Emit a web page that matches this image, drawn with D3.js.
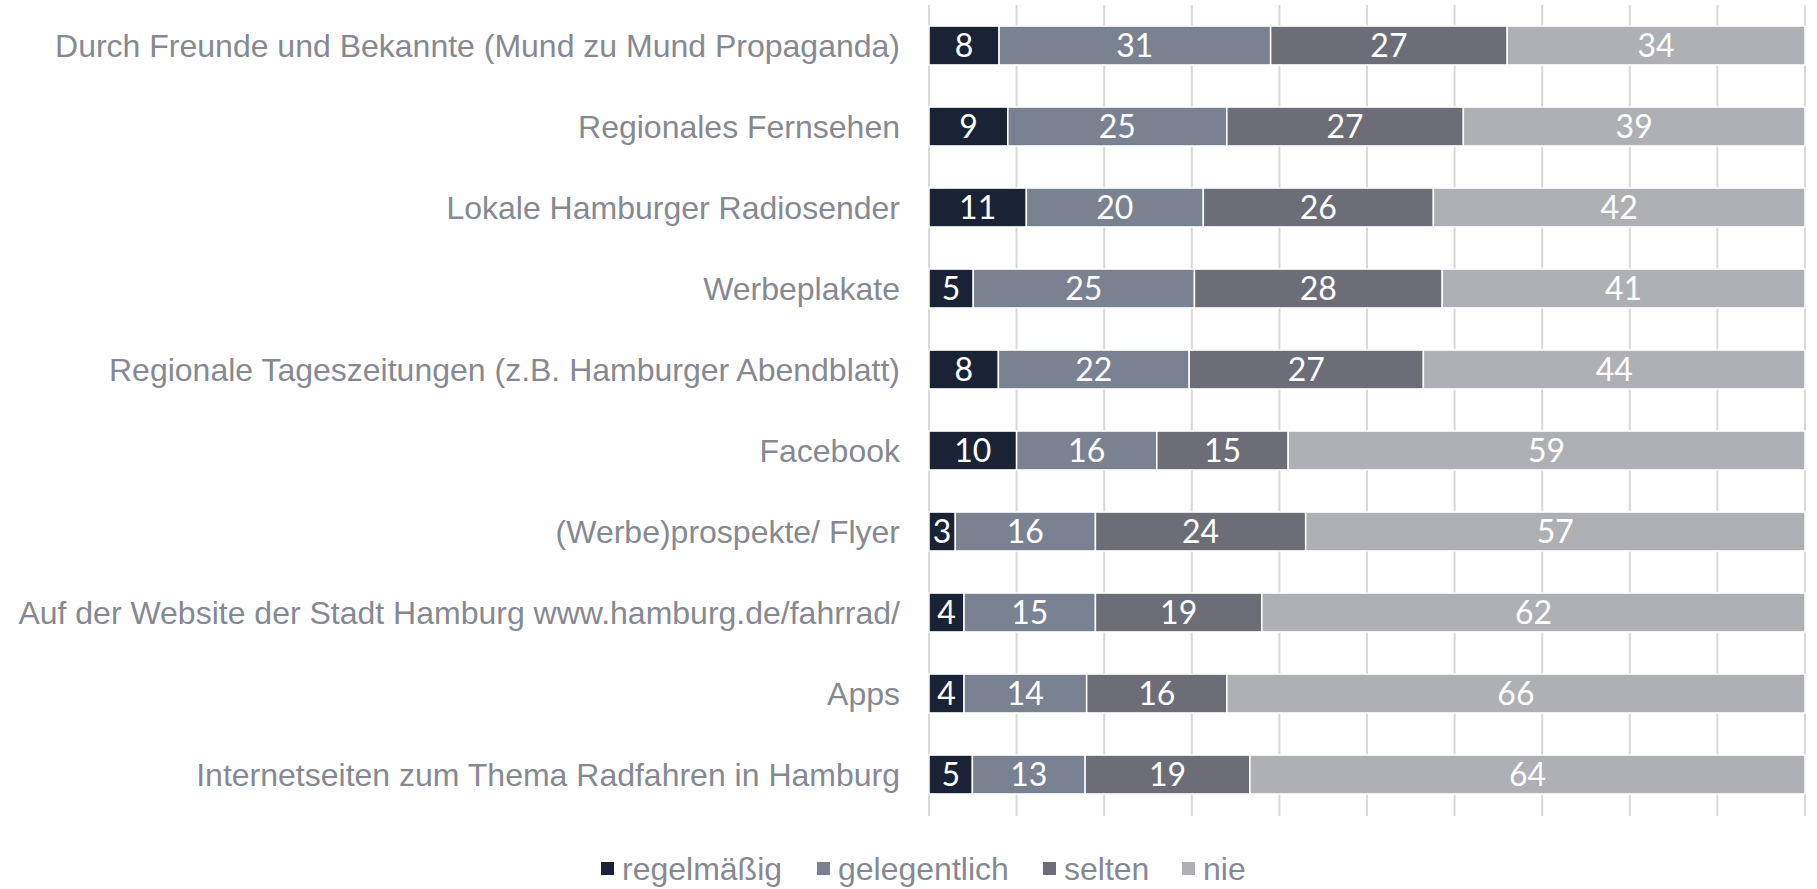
<!DOCTYPE html>
<html>
<head>
<meta charset="utf-8">
<script src="https://cdn.jsdelivr.net/npm/d3@7"></script>
<style>
  body { margin: 0; background: #fff; }
  svg { display: block; }
</style>
</head>
<body>
<div id="chart"></div>
<script>
const width = 1817;
const height = 889;

// data
const categories = [
    "Durch Freunde und Bekannte (Mund zu Mund Propaganda)",
    "Regionales Fernsehen",
    "Lokale Hamburger Radiosender",
    "Werbeplakate",
    "Regionale Tageszeitungen (z.B. Hamburger Abendblatt)",
    "Facebook",
    "(Werbe)prospekte/ Flyer",
    "Auf der Website der Stadt Hamburg www.hamburg.de/fahrrad/",
    "Apps",
    "Internetseiten zum Thema Radfahren in Hamburg"
];
const seriesNames = ["regelmäßig", "gelegentlich", "selten", "nie"];
const regelmaessig = [8, 9, 11, 5, 8, 10, 3, 4, 4, 5];
const gelegentlich = [31, 25, 20, 25, 22, 16, 16, 15, 14, 13];
const selten = [27, 27, 26, 28, 27, 15, 24, 19, 16, 19];
const nie = [34, 39, 42, 41, 44, 59, 57, 62, 66, 64];
const xTicks = [0, 0.1, 0.2, 0.3, 0.4, 0.5, 0.6, 0.7, 0.8, 0.9, 1];

const colors = ["#1a2336", "#7a8191", "#6c6d76", "#afb0b4"];

const rows = categories.map((c, i) => ({
    category: c,
    "regelmäßig": regelmaessig[i],
    "gelegentlich": gelegentlich[i],
    "selten": selten[i],
    "nie": nie[i]
}));

const stack = d3.stack().keys(seriesNames).offset(d3.stackOffsetExpand);
const stacked = stack(rows);

const xScale = d3.scaleLinear().domain([0, 1]).range([929, 1805]);
const yScale = d3.scaleBand()
    .domain(categories)
    .range([5, 815])
    .paddingInner(0.52)
    .paddingOuter(0.26);
const color = d3.scaleOrdinal().domain(seriesNames).range(colors);

const svg = d3.select("#chart").append("svg").attr("width", width).attr("height", height);

// gridlines
svg.append("g")
    .selectAll("line")
    .data(xTicks)
    .join("line")
    .attr("x1", d => xScale(d))
    .attr("x2", d => xScale(d))
    .attr("y1", 5)
    .attr("y2", 816)
    .attr("stroke", "#d9d9d9")
    .attr("stroke-width", 2);

// bars
const layer = svg.append("g")
    .selectAll("g")
    .data(stacked)
    .join("g")
    .attr("fill", d => color(d.key));

layer.selectAll("rect")
    .data(d => d)
    .join("rect")
    .attr("x", d => xScale(d[0]))
    .attr("y", d => yScale(d.data.category))
    .attr("width", d => xScale(d[1]) - xScale(d[0]))
    .attr("height", yScale.bandwidth())
    .attr("stroke", "#fff")
    .attr("stroke-width", 1.5);

// value labels
stacked.forEach(s => {
    svg.append("g")
        .selectAll("text")
        .data(s)
        .join("text")
        .attr("x", d => (xScale(d[0]) + xScale(d[1])) / 2)
        .attr("y", d => yScale(d.data.category) + yScale.bandwidth() / 2)
        .attr("dy", "0.36em")
        .attr("text-anchor", "middle")
        .attr("fill", "#fff")
        .style("font-family", "Lato, sans-serif")
        .style("font-size", "32px")
        .text(d => d.data[s.key]);
});

// category labels
svg.append("g")
    .selectAll("text")
    .data(categories)
    .join("text")
    .attr("x", 900)
    .attr("y", d => yScale(d) + yScale.bandwidth() / 2)
    .attr("dy", "0.35em")
    .attr("text-anchor", "end")
    .attr("fill", "#868991")
    .style("font-family", "'Liberation Sans', Arial, sans-serif")
    .style("font-size", "32px")
    .text(d => d);

// legend
const legendX = [601, 817, 1043, 1182];
const legend = svg.append("g")
    .selectAll("g")
    .data(seriesNames)
    .join("g")
    .attr("transform", (d, i) => `translate(${legendX[i]},869)`);

legend.append("rect")
    .attr("x", 0)
    .attr("y", -7)
    .attr("width", 13)
    .attr("height", 13)
    .attr("fill", d => color(d));

legend.append("text")
    .attr("x", 21)
    .attr("y", 0)
    .attr("dy", "0.35em")
    .attr("fill", "#868991")
    .style("font-family", "'Liberation Sans', Arial, sans-serif")
    .style("font-size", "32px")
    .text(d => d);
</script>
</body>
</html>
